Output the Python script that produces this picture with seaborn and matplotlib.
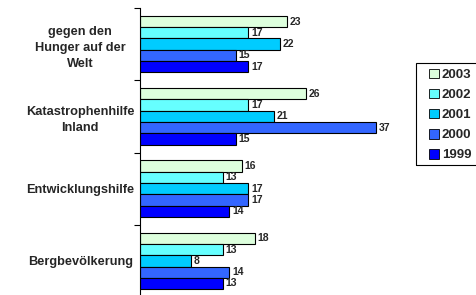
import matplotlib
matplotlib.use("Agg")
import matplotlib.pyplot as plt
import seaborn as sns
import pandas as pd
from matplotlib.patches import Patch, Rectangle

# data
categories = ["gegen den\nHunger auf der\nWelt", "Katastrophenhilfe\nInland",
              "Entwicklungshilfe", "Bergbevölkerung"]
years = ["2003", "2002", "2001", "2000", "1999"]
v2003 = [23, 26, 16, 18]
v2002 = [17, 17, 13, 13]
v2001 = [22, 21, 17, 8]
v2000 = [15, 37, 17, 14]
v1999 = [17, 15, 14, 13]
colors = ["#DDFFDD", "#66FFFF", "#00CCFF", "#3366FF", "#0000FF"]

rows = []
for year, vals in zip(years, [v2003, v2002, v2001, v2000, v1999]):
    for cat, v in zip(categories, vals):
        rows.append({"Kategorie": cat, "Jahr": year, "Wert": v})
df = pd.DataFrame(rows)

sns.set_style("white")
plt.rcParams["font.family"] = ["Liberation Sans", "DejaVu Sans"]
plt.rcParams["font.weight"] = "bold"

W, H = 477, 295
fig = plt.figure(figsize=(W / 100, H / 100), dpi=100)
ax = fig.add_axes([140 / W, -2 / H, 265 / W, 289 / H])

sns.barplot(data=df, y="Kategorie", x="Wert", hue="Jahr", order=categories,
            hue_order=years, palette=colors, saturation=1, orient="h",
            width=0.78, edgecolor="black", linewidth=0.8, legend=False, ax=ax)

for cont in ax.containers:
    ax.bar_label(cont, padding=2, fontsize=7.5, fontweight="bold")

ax.set_xlim(0, 265 / 6.37)
ax.set_ylim(3.5, -0.5)
ax.set_xlabel("")
ax.set_ylabel("")
ax.xaxis.set_visible(False)
for s in ["top", "right", "bottom"]:
    ax.spines[s].set_visible(False)
ax.spines["left"].set_color("black")
ax.spines["left"].set_linewidth(0.8)

ax.set_yticks(range(len(categories)))
ax.set_yticklabels(categories, fontsize=9.2, fontweight="bold", ha="center",
                   linespacing=1.45)
ax.tick_params(axis="y", which="major", length=0, pad=43)
ax.set_yticks([-0.5, 0.5, 1.5, 2.5, 3.5], minor=True)
ax.tick_params(axis="y", which="minor", length=4, width=0.8, color="black",
               left=True)

# legend, frame drawn separately so it runs off the right edge like the original
handles = [Patch(facecolor=c, edgecolor="black", linewidth=0.6) for c in colors]
leg = fig.legend(handles, years, loc="upper left",
                 bbox_to_anchor=(426 / W, 1 - 66 / H),
                 prop={"size": 9.5, "weight": "bold"}, frameon=False,
                 handlelength=0.75, handleheight=0.75, handletextpad=0.25,
                 labelspacing=0.58, borderpad=0.2, borderaxespad=0)
fig.patches.append(Rectangle((416 / W, 1 - 165 / H), 70 / W, 102 / H,
                             transform=fig.transFigure, facecolor="none",
                             edgecolor="black", linewidth=0.8))

fig.savefig("out.png", dpi=100)
